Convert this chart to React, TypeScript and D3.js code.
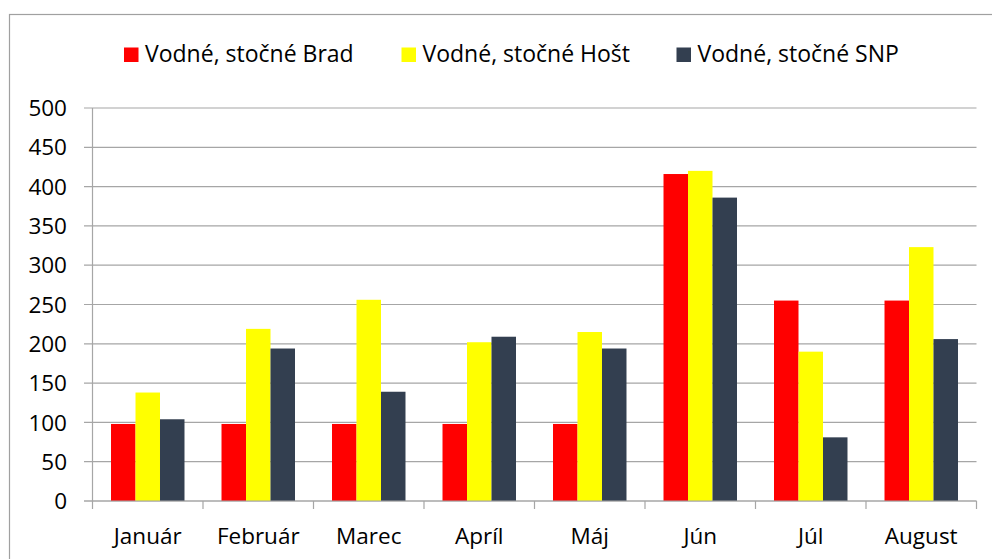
import React from "react";
import * as d3 from "d3";

const categories = ["Január", "Február", "Marec", "Apríl", "Máj", "Jún", "Júl", "August"];
const seriesNames = ["Vodné, stočné Brad", "Vodné, stočné Hošt", "Vodné, stočné SNP"];
const brad = [98, 98, 98, 98, 98, 416, 255, 255];
const host = [138, 219, 256, 202, 215, 420, 190, 323];
const snp = [104, 194, 139, 209, 194, 386, 81, 206];
const yTicks = [0, 50, 100, 150, 200, 250, 300, 350, 400, 450, 500];
const colors = ["#FF0000", "#FFFF00", "#333F50"];

const W = 992;
const H = 559;
const FONT = "'Open Sans', Lato, sans-serif";

export default function App() {
  const seriesValues = [brad, host, snp];
  const left = 92.5;
  const right = 976.5;
  const top = 108;
  const bottom = 501;

  const x0 = d3.scaleBand<string>().domain(categories).range([left, right]).padding(0);
  const bw = x0.bandwidth();
  const gap = bw * 0.335;
  const x1 = d3
    .scaleBand<number>()
    .domain(d3.range(seriesNames.length))
    .range([gap / 2, bw - gap / 2])
    .padding(0);
  const y = d3.scaleLinear().domain([0, 500]).range([bottom, top]);

  const gridColor = "#A6A6A6";
  const legendX = [124, 401.5, 676.5];

  return (
    <svg
      width={W}
      height={H}
      style={{ position: "absolute", left: 0, top: 0, background: "#fff" }}
      fontFamily={FONT}
    >
      <rect x={0} y={0} width={W} height={H} fill="#fff" />
      {/* chart frame */}
      <rect x={9.5} y={14.5} width={1100} height={700} fill="none" stroke="#A0A0A0" strokeWidth={1.2} />

      {/* legend */}
      {seriesNames.map((s, i) => (
        <g key={s}>
          <rect x={legendX[i]} y={47.5} width={14.5} height={14.5} fill={colors[i]} />
          <text x={legendX[i] + 21} y={62.3} fontSize={23} fill="#000">
            {s}
          </text>
        </g>
      ))}

      {/* gridlines + y ticks */}
      {yTicks.map((t) => (
        <g key={t}>
          <line x1={84} x2={right} y1={y(t)} y2={y(t)} stroke={gridColor} strokeWidth={1.2} />
          <text
            x={67}
            y={y(t)}
            dy="0.36em"
            textAnchor="end"
            fontSize={22.5}
            fill="#000"
          >
            {t}
          </text>
        </g>
      ))}

      {/* bars */}
      {categories.map((c, ci) => (
        <g key={c} transform={`translate(${x0(c)},0)`}>
          {seriesValues.map((vals, si) => (
            <rect
              key={si}
              x={x1(si)}
              y={y(vals[ci])}
              width={x1.bandwidth()}
              height={y(0) - y(vals[ci])}
              fill={colors[si]}
            />
          ))}
        </g>
      ))}

      {/* axes */}
      <line x1={left} x2={left} y1={top} y2={509} stroke={gridColor} strokeWidth={1.2} />
      <line x1={84} x2={right} y1={bottom} y2={bottom} stroke={gridColor} strokeWidth={1.2} />
      {categories.map((c) => (
        <line
          key={"t" + c}
          x1={(x0(c) as number) + bw}
          x2={(x0(c) as number) + bw}
          y1={bottom}
          y2={509}
          stroke={gridColor}
          strokeWidth={1.2}
        />
      ))}
      {categories.map((c) => (
        <text
          key={"l" + c}
          x={(x0(c) as number) + bw / 2}
          y={543.5}
          textAnchor="middle"
          fontSize={22.5}
          fill="#000"
        >
          {c}
        </text>
      ))}
    </svg>
  );
}
